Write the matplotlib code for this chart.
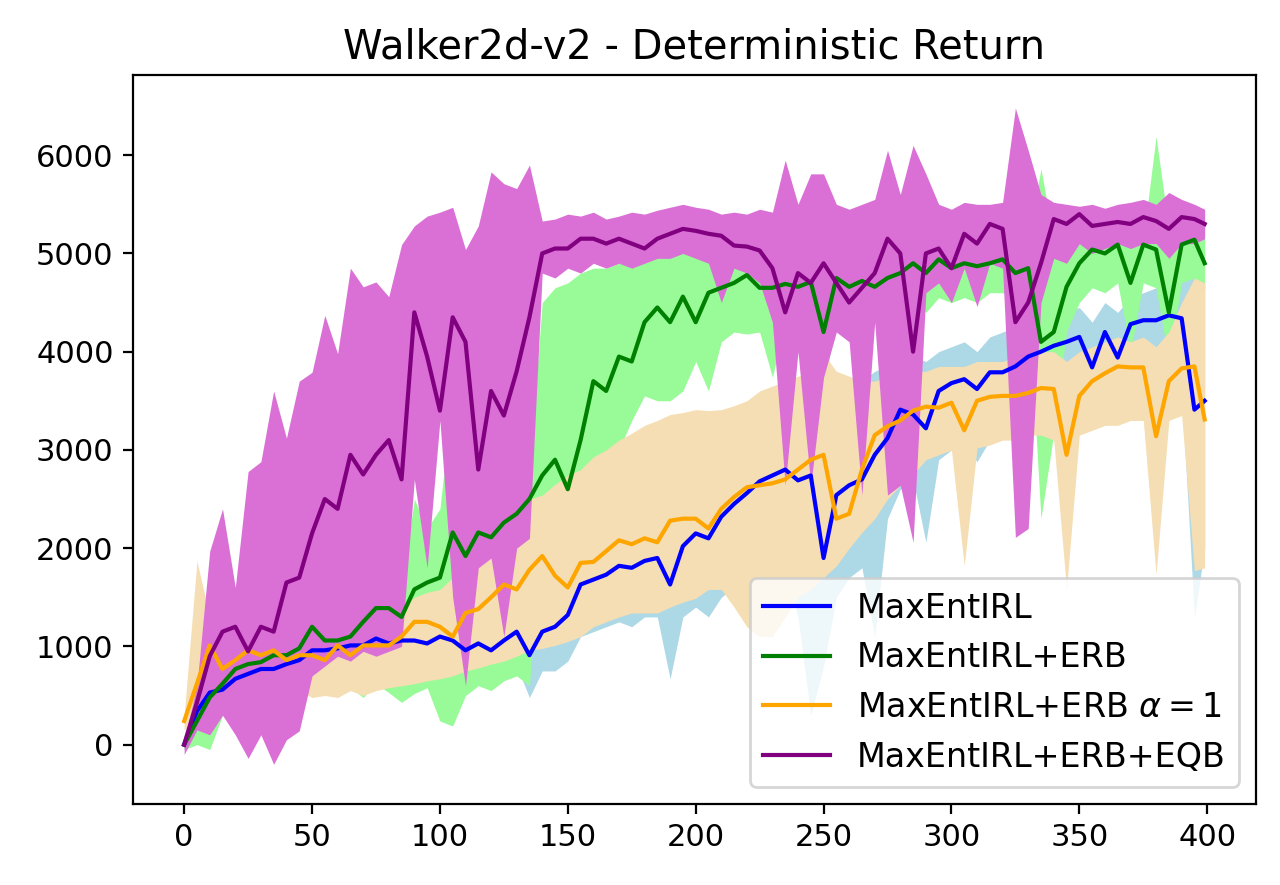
import numpy as np
import matplotlib.pyplot as plt

# training iterations (sampled every 5 steps, plus the last one)
steps = list(range(0, 400, 5)) + [399]

labels = ['MaxEntIRL', 'MaxEntIRL+ERB', r'MaxEntIRL+ERB $\alpha=1$', 'MaxEntIRL+ERB+EQB']
line_colors = ['blue', 'green', 'orange', 'purple']
fill_colors = ['lightblue', 'palegreen', 'wheat', 'orchid']

# MaxEntIRL
base_mean = [0, 340, 530, 560, 670, 720, 770, 770, 820, 860,
             960, 960, 980, 1010, 1010, 1080, 1030, 1060, 1060, 1030,
             1100, 1060, 960, 1030, 960, 1060, 1150, 910, 1150, 1200,
             1320, 1630, 1680, 1730, 1820, 1800, 1870, 1900, 1630, 2020,
             2150, 2100, 2320, 2450, 2560, 2680, 2740, 2800, 2690, 2740,
             1900, 2540, 2640, 2700, 2950, 3120, 3410, 3360, 3220, 3600,
             3680, 3720, 3620, 3790, 3790, 3850, 3950, 4000, 4060, 4100,
             4150, 3840, 4200, 3940, 4280, 4320, 4320, 4370, 4340, 3410,
             3500]
base_upper = [50, 500, 700, 700, 800, 850, 900, 900, 950, 1000,
              1100, 1100, 1150, 1150, 1200, 1250, 1200, 1250, 1250, 1250,
              1300, 1300, 1250, 1300, 1300, 1350, 1450, 1300, 1500, 1600,
              1800, 2100, 2200, 2300, 2400, 2400, 2500, 2600, 2500, 2800,
              2900, 2900, 3000, 3100, 3200, 3300, 3350, 3400, 3400, 3450,
              3000, 3400, 3600, 3700, 3800, 3850, 3900, 3950, 3900, 4000,
              4050, 4100, 4000, 4150, 4200, 4250, 4300, 4350, 4400, 4400,
              4450, 4300, 4500, 4400, 4550, 4600, 4650, 4700, 4750, 4800,
              4700]
base_lower = [-50, 150, 350, 400, 500, 550, 600, 600, 650, 700,
              750, 750, 780, 800, 800, 850, 820, 850, 850, 800,
              850, 800, 650, 750, 650, 750, 800, 480, 750, 750,
              850, 1100, 1150, 1200, 1250, 1200, 1300, 1300, 670, 1300,
              1400, 1300, 1500, 1600, 1700, 1800, 1900, 1800, 1300, 300,
              800, 1500, 1700, 1800, 1100, 2300, 2600, 2700, 2060, 2900,
              3000, 3050, 2880, 3100, 3150, 3200, 3250, 3300, 3350, 3400,
              3450, 3300, 3500, 3300, 3600, 3650, 3700, 3700, 3600, 1300,
              2000]

# MaxEntIRL+ERB
erb_mean = [0, 240, 480, 620, 770, 820, 840, 910, 910, 980,
            1200, 1060, 1060, 1100, 1250, 1390, 1390, 1300, 1580, 1650,
            1700, 2160, 1920, 2160, 2110, 2260, 2350, 2500, 2740, 2900,
            2600, 3100, 3700, 3600, 3950, 3900, 4300, 4450, 4300, 4560,
            4300, 4600, 4650, 4700, 4780, 4650, 4650, 4690, 4660, 4710,
            4200, 4750, 4660, 4720, 4660, 4750, 4800, 4900, 4800, 4940,
            4850, 4900, 4870, 4900, 4940, 4800, 4850, 4100, 4200, 4660,
            4900, 5040, 5000, 5090, 4700, 5090, 5040, 4400, 5090, 5140,
            4900]
erb_upper = [100, 500, 700, 800, 900, 1000, 1000, 1050, 1100, 1150,
             1300, 1250, 1250, 1300, 1400, 1550, 1600, 1600, 2500, 2200,
             2400, 3600, 2600, 2500, 2500, 2600, 2700, 2800, 4500, 4650,
             4700, 4800, 4850, 4850, 4900, 4950, 5000, 5050, 5000, 5050,
             5100, 5050, 5050, 5100, 5050, 5100, 5150, 5050, 5100, 5050,
             5570, 5050, 5000, 5050, 5100, 5050, 5100, 5100, 5150, 5150,
             5100, 5150, 5100, 5150, 5150, 5100, 5150, 5860, 5150, 5100,
             5150, 5200, 5200, 5150, 5200, 5150, 6190, 5250, 5200, 5250,
             5150]
erb_lower = [-50, 0, -50, 300, 140, 250, 400, 500, 500, 550,
             720, 700, 620, 580, 480, 620, 530, 430, 520, 580,
             240, 190, 500, 600, 550, 650, 700, 600, 2300, 2400,
             2450, 2600, 2800, 2900, 3000, 3300, 3550, 3500, 3500, 3600,
             3900, 3600, 4100, 4200, 4180, 4200, 3740, 4300, 4350, 4300,
             3600, 4350, 4400, 4350, 4400, 4450, 4400, 4500, 4400, 4550,
             4500, 4550, 4500, 4600, 4600, 4500, 4550, 2300, 3170, 4200,
             4500, 4650, 4600, 4700, 4000, 4700, 4650, 3900, 4700, 4750,
             4600]

# MaxEntIRL+ERB alpha=1
alpha_mean = [240, 620, 1010, 770, 860, 960, 910, 960, 860, 910,
              910, 860, 1010, 910, 1010, 1010, 1010, 1100, 1250, 1250,
              1200, 1100, 1340, 1380, 1500, 1630, 1580, 1780, 1920, 1720,
              1600, 1850, 1860, 1970, 2080, 2040, 2100, 2060, 2280, 2300,
              2300, 2200, 2400, 2520, 2620, 2640, 2660, 2700, 2800, 2900,
              2950, 2300, 2350, 2800, 3150, 3240, 3300, 3400, 3440, 3430,
              3480, 3200, 3500, 3540, 3550, 3550, 3580, 3630, 3620, 2950,
              3550, 3700, 3780, 3850, 3840, 3840, 3140, 3700, 3830, 3850,
              3310]
alpha_upper = [300, 1870, 1300, 1000, 1100, 1150, 1100, 1150, 1150, 1200,
               1200, 1150, 1250, 1200, 1300, 1300, 1350, 1400, 1500, 1550,
               1580, 1700, 1820, 1950, 2100, 2260, 2400, 2500, 2540, 2650,
               2740, 2800, 2930, 3000, 3100, 3170, 3250, 3300, 3360, 3380,
               3410, 3400, 3410, 3450, 3500, 3600, 3650, 3700, 3750, 3790,
               3980, 3800, 3750, 3700, 3700, 3750, 3750, 3800, 3800, 3850,
               3850, 3850, 3900, 3900, 3900, 3950, 3950, 4000, 4000, 3900,
               4000, 4050, 4100, 4150, 4100, 4150, 4050, 4200, 4500, 4750,
               4700]
alpha_lower = [150, 250, 500, 500, 550, 600, 600, 650, 600, 550,
               480, 500, 480, 550, 500, 550, 580, 600, 620, 650,
               670, 700, 750, 780, 820, 850, 900, 960, 980, 1010,
               1050, 1100, 1200, 1250, 1300, 1340, 1340, 1340, 1400, 1450,
               1490, 1580, 1580, 1400, 1200, 1100, 1100, 1300, 1500, 1580,
               1700, 1820, 2000, 2160, 2300, 2500, 2640, 2750, 2900, 2950,
               3000, 1820, 3020, 3050, 3100, 3100, 3150, 3150, 3100, 1580,
               3150, 3200, 3250, 3250, 3300, 3300, 1730, 3300, 3350, 1770,
               1800]

# MaxEntIRL+ERB+EQB
eqb_mean = [0, 430, 900, 1150, 1200, 950, 1200, 1150, 1650, 1700,
            2150, 2500, 2400, 2950, 2750, 2950, 3100, 2700, 4400, 3950,
            3400, 4350, 4100, 2800, 3600, 3350, 3800, 4350, 5000, 5050,
            5050, 5150, 5150, 5100, 5150, 5100, 5050, 5150, 5200, 5250,
            5230, 5200, 5180, 5080, 5070, 5030, 4850, 4400, 4800, 4700,
            4900, 4700, 4500, 4650, 4800, 5150, 5000, 4000, 5000, 5050,
            4850, 5200, 5100, 5300, 5250, 4300, 4500, 4900, 5350, 5300,
            5400, 5280, 5300, 5320, 5300, 5370, 5330, 5250, 5370, 5350,
            5300]
eqb_upper = [50, 600, 1970, 2400, 1600, 2780, 2880, 3600, 3120, 3700,
             3790, 4370, 3980, 4850, 4660, 4710, 4560, 5090, 5280, 5380,
             5420, 5470, 5040, 5280, 5830, 5710, 5660, 5900, 5330, 5350,
             5400, 5380, 5420, 5350, 5380, 5420, 5400, 5440, 5470, 5500,
             5470, 5450, 5400, 5420, 5400, 5450, 5420, 5950, 5500, 5810,
             5810, 5500, 5450, 5500, 5550, 6050, 5600, 6100, 5810, 5500,
             5450, 5520, 5500, 5500, 5520, 6480, 6050, 5600, 5520, 5500,
             5480, 5500, 5460, 5500, 5520, 5550, 5500, 5620, 5550, 5500,
             5450]
eqb_lower = [-100, 150, 100, 300, 100, -140, 100, -200, 50, 140,
             700, 800, 900, 850, 950, 900, 950, 1000, 2700, 1800,
             3300, 1500, 600, 1800, 1900, 1100, 2000, 2100, 4800, 4750,
             4850, 4800, 4900, 4850, 4900, 4850, 4900, 4950, 4950, 5000,
             4950, 4900, 4500, 4850, 4800, 4700, 4300, 2640, 4000, 2640,
             3740, 4200, 4100, 2540, 4300, 2540, 2640, 2060, 4600, 4700,
             4500, 4850, 4460, 4900, 4850, 2110, 2200, 4500, 4950, 4900,
             5100, 5000, 5050, 5100, 5050, 5100, 5100, 4950, 5100, 5100,
             5150]

means = [base_mean, erb_mean, alpha_mean, eqb_mean]
uppers = [base_upper, erb_upper, alpha_upper, eqb_upper]
lowers = [base_lower, erb_lower, alpha_lower, eqb_lower]

fig, ax = plt.subplots(figsize=(6.4, 4.425), dpi=200)
fig.subplots_adjust(left=0.104, right=0.981, top=0.915, bottom=0.092)

# shaded bands first, lines on top
for lo, hi, fc in zip(lowers, uppers, fill_colors):
    ax.fill_between(steps, lo, hi, color=fc, linewidth=0)

for m, lc, lab in zip(means, line_colors, labels):
    ax.plot(steps, m, color=lc, label=lab, zorder=3)

ax.set_xlim(-19.95, 418.95)
ax.set_ylim(-600, 6814)
ax.tick_params(labelsize=11)
ax.set_title('Walker2d-v2 - Deterministic Return', fontsize=14.4)
ax.legend(loc='lower right', fontsize=12)

plt.savefig('out.png', dpi=200)
